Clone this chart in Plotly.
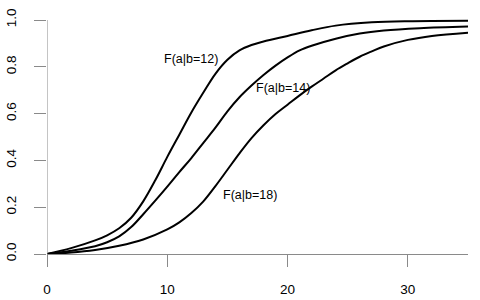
import plotly.graph_objects as go

# data
x_b12 = [0, 2, 4, 5, 6, 7, 8, 9, 10, 11, 12, 13, 14, 15, 16, 17, 18, 20, 22, 24, 27, 30, 35]
y_b12 = [0, 0.025, 0.058, 0.08, 0.11, 0.155, 0.225, 0.315, 0.415, 0.51, 0.605, 0.69, 0.77, 0.83,
         0.87, 0.893, 0.908, 0.932, 0.956, 0.976, 0.99, 0.995, 0.997]

x_b14 = [0, 2, 4, 5, 6, 7, 8, 9, 10, 11, 12, 13, 14, 15, 16, 17, 18, 19, 20, 21, 22, 24, 26, 28, 31, 35]
y_b14 = [0, 0.014, 0.033, 0.05, 0.075, 0.115, 0.17, 0.228, 0.288, 0.35, 0.41, 0.475, 0.54, 0.61,
         0.67, 0.72, 0.765, 0.805, 0.84, 0.87, 0.89, 0.92, 0.942, 0.955, 0.965, 0.972]

x_b18 = [0, 2, 4, 6, 8, 10, 11, 12, 13, 14, 15, 16, 17, 18, 19, 20, 21, 22, 23, 24, 25, 26, 27, 28, 30, 32, 35]
y_b18 = [0, 0.006, 0.017, 0.035, 0.062, 0.105, 0.135, 0.175, 0.225, 0.29, 0.36, 0.43, 0.495,
         0.55, 0.598, 0.638, 0.678, 0.715, 0.75, 0.785, 0.815, 0.843, 0.866, 0.887, 0.915, 0.932, 0.946]

labels = ["F(a|b=12)", "F(a|b=14)", "F(a|b=18)"]
label_x = [12.0, 19.6, 16.9]
label_y = [0.833, 0.71, 0.254]

x_ticks = [0, 10, 20, 30]
y_ticks = [0.0, 0.2, 0.4, 0.6, 0.8, 1.0]
y_tick_text = ["0.0", "0.2", "0.4", "0.6", "0.8", "1.0"]

FONT = "Liberation Sans, Arial, sans-serif"
AXC = "#8a8a8a"

fig = go.Figure()
for xs, ys in [(x_b12, y_b12), (x_b14, y_b14), (x_b18, y_b18)]:
    fig.add_trace(go.Scatter(x=xs, y=ys, mode="lines",
                             line=dict(color="black", width=2, shape="spline", smoothing=1.0),
                             cliponaxis=False, showlegend=False, hoverinfo="skip"))

for t, lx, ly in zip(labels, label_x, label_y):
    fig.add_annotation(x=lx, y=ly, text=t, showarrow=False,
                       font=dict(family=FONT, size=12.5, color="black"))

fig.add_shape(type="line", xref="x", yref="y", x0=0, x1=0, y0=0, y1=1,
              line=dict(color=AXC, width=1))

fig.update_layout(
    width=480, height=300,
    margin=dict(l=47, r=12, t=10, b=46, autoexpand=False),
    paper_bgcolor="white", plot_bgcolor="white",
    xaxis=dict(range=[0, 35], tickvals=x_ticks, ticks="outside", ticklen=12,
               tickcolor=AXC, showline=True, linecolor=AXC, linewidth=1,
               showgrid=False, zeroline=False, automargin=False,
               tickfont=dict(family=FONT, size=13.5, color="black"),
               ticklabelstandoff=11),
    yaxis=dict(range=[0, 244 / 234], tickvals=y_ticks, ticktext=y_tick_text,
               ticks="outside", ticklen=12, tickcolor=AXC, showline=False,
               showgrid=False, zeroline=False, tickangle=-90, automargin=False,
               tickfont=dict(family=FONT, size=13.5, color="black"),
               ticklabelstandoff=13),
)

fig.write_html("out.html")
